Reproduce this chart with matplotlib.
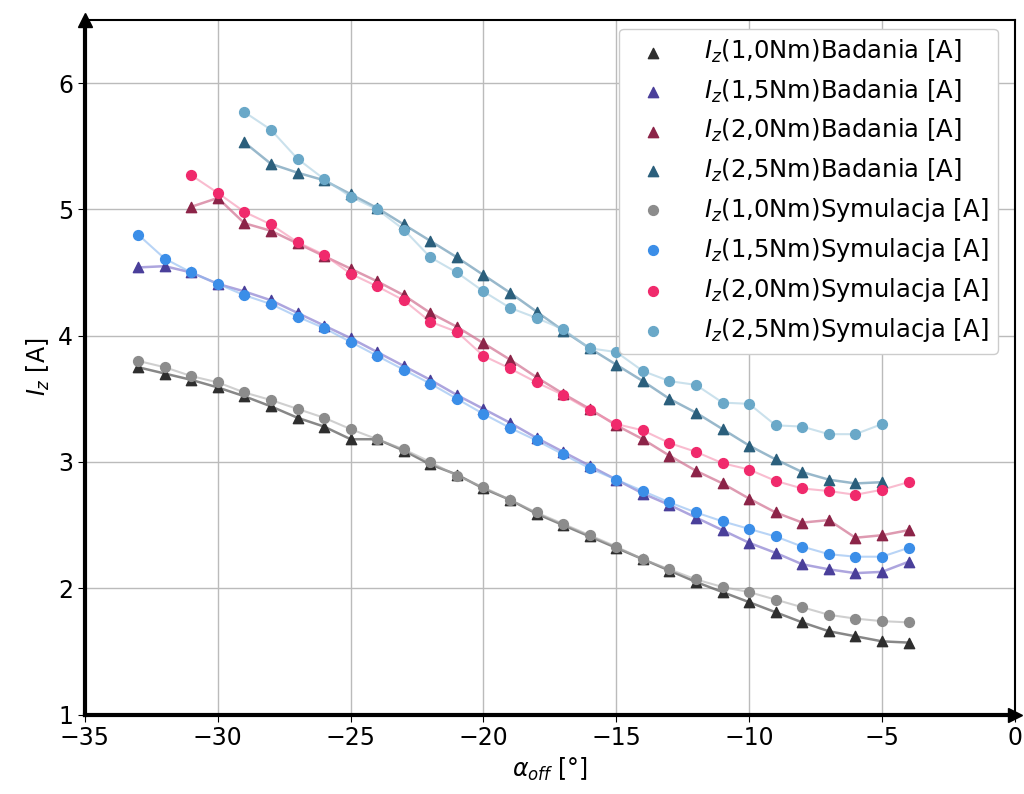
import matplotlib
matplotlib.use("Agg")
import matplotlib.pyplot as plt

x_full = list(range(-33, -3))      # -33 .. -4
x_20 = list(range(-31, -3))        # -31 .. -4
x_25 = list(range(-29, -4))        # -29 .. -5
x_25s = list(range(-29, -4))

bad_10 = [3.75, 3.70, 3.65, 3.59, 3.52, 3.44, 3.35, 3.28, 3.18, 3.18, 3.09, 2.98, 2.90, 2.79, 2.70,
          2.59, 2.50, 2.41, 2.32, 2.23, 2.14, 2.05, 1.97, 1.89, 1.81, 1.73, 1.66, 1.62, 1.58, 1.57]
sim_10 = [3.80, 3.75, 3.68, 3.63, 3.55, 3.49, 3.42, 3.35, 3.26, 3.18, 3.10, 3.00, 2.89, 2.80, 2.70,
          2.60, 2.51, 2.42, 2.33, 2.23, 2.15, 2.07, 2.01, 1.97, 1.91, 1.85, 1.79, 1.76, 1.74, 1.73]
bad_15 = [4.54, 4.55, 4.50, 4.41, 4.35, 4.28, 4.18, 4.08, 3.98, 3.87, 3.76, 3.65, 3.53, 3.42, 3.31,
          3.19, 3.08, 2.97, 2.86, 2.75, 2.66, 2.56, 2.46, 2.36, 2.28, 2.19, 2.15, 2.12, 2.13, 2.21]
sim_15 = [4.80, 4.61, 4.50, 4.41, 4.32, 4.25, 4.15, 4.06, 3.95, 3.84, 3.73, 3.62, 3.50, 3.38, 3.27,
          3.17, 3.06, 2.95, 2.86, 2.77, 2.68, 2.60, 2.53, 2.47, 2.41, 2.33, 2.27, 2.25, 2.25, 2.32]
bad_20 = [5.02, 5.09, 4.89, 4.83, 4.73, 4.63, 4.53, 4.43, 4.32, 4.18, 4.07, 3.94, 3.81, 3.67,
          3.54, 3.42, 3.29, 3.18, 3.05, 2.93, 2.83, 2.71, 2.60, 2.52, 2.54, 2.40, 2.42, 2.46]
sim_20 = [5.27, 5.13, 4.98, 4.88, 4.74, 4.64, 4.49, 4.39, 4.28, 4.11, 4.03, 3.84, 3.74, 3.63,
          3.53, 3.41, 3.30, 3.25, 3.15, 3.08, 2.99, 2.94, 2.85, 2.79, 2.77, 2.74, 2.78, 2.84]
bad_25 = [5.53, 5.36, 5.29, 5.23, 5.12, 5.01, 4.88, 4.75, 4.62, 4.48, 4.34, 4.19, 4.04, 3.90,
          3.77, 3.64, 3.50, 3.39, 3.26, 3.13, 3.02, 2.92, 2.86, 2.83, 2.84]
sim_25 = [5.77, 5.63, 5.40, 5.24, 5.10, 5.00, 4.84, 4.62, 4.50, 4.35, 4.22, 4.14, 4.05, 3.90,
          3.87, 3.72, 3.64, 3.61, 3.47, 3.46, 3.29, 3.28, 3.22, 3.22, 3.30]

labels = [r"$I_z$(1,0Nm)Badania [A]", r"$I_z$(1,5Nm)Badania [A]",
          r"$I_z$(2,0Nm)Badania [A]", r"$I_z$(2,5Nm)Badania [A]",
          r"$I_z$(1,0Nm)Symulacja [A]", r"$I_z$(1,5Nm)Symulacja [A]",
          r"$I_z$(2,0Nm)Symulacja [A]", r"$I_z$(2,5Nm)Symulacja [A]"]

fig = plt.figure(figsize=(10.24, 7.94), dpi=100)
ax = fig.add_axes([0.083, 0.10, 0.908, 0.875])

bad_series = [(x_full, bad_10, "#2e2e2e", "#555555"),
              (x_full, bad_15, "#4a3f9a", "#8a7fd0"),
              (x_20, bad_20, "#8c2448", "#d07090"),
              (x_25, bad_25, "#2b5f7c", "#6d9ab5")]
sim_series = [(x_full, sim_10, "#8c8c8c", "#b0b0b0"),
              (x_full, sim_15, "#3b8ee8", "#8ab8f0"),
              (x_20, sim_20, "#f02a6c", "#f590b0"),
              (x_25s, sim_25, "#6aa8c8", "#a8cde0")]

handles = []
for (xs, ys, mc, lc) in bad_series:
    ax.plot(xs, ys, "-", color=lc, lw=1.8, alpha=0.7, zorder=2)
for (xs, ys, mc, lc) in sim_series:
    ax.plot(xs, ys, "-", color=lc, lw=1.5, alpha=0.6, zorder=2)
for i, (xs, ys, mc, lc) in enumerate(bad_series):
    h = ax.scatter(xs, ys, marker="^", s=55, color=mc, zorder=3, label=labels[i])
    handles.append(h)
for i, (xs, ys, mc, lc) in enumerate(sim_series):
    h = ax.scatter(xs, ys, marker="o", s=50, color=mc, zorder=4, label=labels[4 + i])
    handles.append(h)

ax.set_xlim(-35, 0)
ax.set_ylim(1, 6.5)
ax.set_xticks([-35, -30, -25, -20, -15, -10, -5, 0])
ax.set_yticks([1, 2, 3, 4, 5, 6])
ax.tick_params(labelsize=17, length=5)
ax.grid(True, color="#bbbbbb", lw=1.0)
ax.set_axisbelow(True)

ax.spines["left"].set_linewidth(3)
ax.spines["bottom"].set_linewidth(3)
ax.spines["top"].set_linewidth(1.5)
ax.spines["right"].set_linewidth(1.5)
ax.plot(1, 0, ">k", markersize=10, transform=ax.transAxes, clip_on=False, zorder=6)
ax.plot(0, 1, "^k", markersize=10, transform=ax.transAxes, clip_on=False, zorder=6)

ax.set_xlabel(r"$\alpha_{off}$ [°]", fontsize=17)
ax.set_ylabel(r"$I_z$ [A]", fontsize=17)

leg = ax.legend(handles=handles, loc="upper right", fontsize=17.5, framealpha=1,
                handletextpad=1.1, borderpad=0.4, labelspacing=0.5,
                bbox_to_anchor=(0.995, 1.005))
leg.get_frame().set_edgecolor("#cccccc")

fig.savefig("out.png", dpi=100)
